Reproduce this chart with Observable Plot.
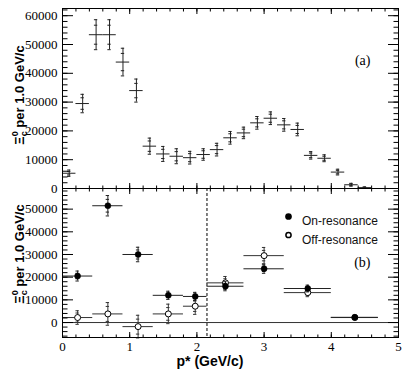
<!DOCTYPE html>
<html><head><meta charset="utf-8">
<script src="https://cdn.jsdelivr.net/npm/d3@7"></script>
<script src="https://cdn.jsdelivr.net/npm/@observablehq/plot@0.6"></script>
<style>
body{margin:0;background:#fff;}
#chart{position:relative;width:415px;height:372px;overflow:hidden;background:#fff;}
#chart svg{position:absolute;left:0;overflow:visible;background:transparent;}
#chart g[aria-label$="tick label"] text{font-family:"Liberation Serif",serif;}
</style></head>
<body><div id="chart"></div>
<script>
// ---- Panel (a): Xi_c^0 yield vs p* ----
const pTop = [0.1,0.3,0.5,0.7,0.9,1.1,1.3,1.5,1.7,1.9,2.1,2.3,2.5,2.7,2.9,3.1,3.3,3.5,3.7,3.9,4.1,4.3,4.5];
const yieldTop = [5300,29500,53400,53400,43900,34000,14700,12000,11200,10700,11800,13500,17600,19300,22800,24400,22100,20500,11500,10500,5700,1300,300];
const errTotTop = [1100,3200,5200,5200,4800,4000,2800,2600,2600,2200,2000,2200,2200,2000,2200,2200,2200,2200,1300,1200,1000,500,250];
const errStatTop = [600,2000,3300,3300,3000,2500,1800,1600,1600,1400,1300,1400,1400,1300,1400,1400,1400,1400,800,700,600,300,150];
const binWidthTop = 0.2;

// ---- Panel (b): on / off resonance ----
const binLo = [0,0.45,0.9,1.35,1.8,2.15,2.7,3.3,4.0];
const binHi = [0.45,0.9,1.35,1.8,2.15,2.7,3.3,4.0,4.7];
const onRes = [20500,51500,30000,12000,11500,16000,23700,15000,2300];
const onErrTot = [2200,4500,3200,1800,1800,2000,2000,1500,900];
const onErrStat = [1200,2800,2000,1000,1000,1200,1200,900,500];
const offRes = [2200,3800,-1800,3800,7200,17500,29500,13200,2200];
const offErrTot = [3000,5000,5000,4300,3600,2800,3600,1800,700];
const offErrStat = [2000,3300,3300,2800,2300,1800,2300,1100,400];
const pCut = 2.15;

// ---- Axis ticks ----
const xTicks = [0,1,2,3,4,5];
const yTicksTop = [0,10000,20000,30000,40000,50000,60000];
const yTicksBottom = [0,10000,20000,30000,40000,50000];
const legendLabels = ["On-resonance","Off-resonance"];

const SERIF = "Liberation Serif";
const SANS = "Liberation Sans";
const capW = 0.025;
const fmt = d3.format("d");

function rows(xs, lo, hi, vs, et, es) {
  return xs.map((p, i) => ({p, lo: lo[i], hi: hi[i], v: vs[i], et: et[i], es: es[i]}));
}
function caps(rs) {
  return rs.flatMap(d => [d.v - d.et, d.v + d.et, d.v - d.es, d.v + d.es].map(y => ({p: d.p, y})));
}
function errMarks(rs, stroke) {
  return [
    Plot.ruleY(rs, {x1: "lo", x2: "hi", y: "v", stroke, strokeWidth: 1}),
    Plot.ruleX(rs, {x: "p", y1: d => d.v - d.et, y2: d => d.v + d.et, stroke, strokeWidth: 1}),
    Plot.ruleY(caps(rs), {x1: d => d.p - capW, x2: d => d.p + capW, y: "y", stroke, strokeWidth: 1})
  ];
}
function frameTicks(yMaj, yMin) {
  const xMin = d3.range(0, 26).map(i => i * 0.2);
  const c = {fill: null, label: null, stroke: "#000", strokeWidth: 1};
  return [
    Plot.axisX(xTicks, {...c, anchor: "bottom", tickSize: -5}),
    Plot.axisX(xMin, {...c, anchor: "bottom", tickSize: -2.5}),
    Plot.axisX(xTicks, {...c, anchor: "top", tickSize: -5}),
    Plot.axisX(xMin, {...c, anchor: "top", tickSize: -2.5}),
    Plot.axisY(yMaj, {...c, anchor: "left", tickSize: -11}),
    Plot.axisY(yMin, {...c, anchor: "left", tickSize: -5.5}),
    Plot.axisY(yMaj, {...c, anchor: "right", tickSize: -11}),
    Plot.axisY(yMin, {...c, anchor: "right", tickSize: -5.5})
  ];
}

const topRows = rows(pTop, pTop.map(p => p - binWidthTop / 2), pTop.map(p => p + binWidthTop / 2), yieldTop, errTotTop, errStatTop);
const centers = binLo.map((l, i) => (l + binHi[i]) / 2);
const onRows = rows(centers, binLo, binHi, onRes, onErrTot, onErrStat);
const offRows = rows(centers, binLo, binHi, offRes, offErrTot, offErrStat);

const styleBase = {fontFamily: SERIF, fontSize: "13px", background: "transparent", overflow: "visible"};

const topPlot = Plot.plot({
  width: 415, height: 188,
  marginLeft: 62, marginRight: 17, marginTop: 8, marginBottom: 0,
  x: {domain: [0, 5]},
  y: {domain: [0, 62500]},
  style: styleBase,
  marks: [
    ...errMarks(topRows, "#222"),
    Plot.frame({stroke: "#000"}),
    ...frameTicks(yTicksTop, d3.range(0, 62001, 2000)),
    Plot.axisY(yTicksTop, {anchor: "left", tickSize: 0, tickPadding: 5, tickFormat: fmt, label: null, fontSize: 13, fontFamily: SERIF}),
    Plot.text(["(a)"], {frameAnchor: "top-right", dx: -28, dy: 47, fontSize: 14, fontFamily: SERIF})
  ]
});

const bottomPlot = Plot.plot({
  width: 415, height: 184,
  marginLeft: 62, marginRight: 17, marginTop: 0, marginBottom: 35,
  x: {domain: [0, 5]},
  y: {domain: [-6600, 59100]},
  style: styleBase,
  marks: [
    Plot.ruleY([0], {stroke: "#333", strokeWidth: 1}),
    Plot.ruleX([pCut], {stroke: "#000", strokeWidth: 1, strokeDasharray: "3,2"}),
    ...errMarks(offRows, "#333"),
    Plot.dot(offRows, {x: "p", y: "v", r: 3, fill: "#fff", stroke: "#000", strokeWidth: 1}),
    ...errMarks(onRows, "#222"),
    Plot.dot(onRows, {x: "p", y: "v", r: 3, fill: "#000", stroke: "#000", strokeWidth: 0.5}),
    Plot.frame({stroke: "#000"}),
    ...frameTicks(yTicksBottom, d3.range(-6000, 59001, 2000)),
    Plot.axisY(yTicksBottom, {anchor: "left", tickSize: 0, tickPadding: 5, tickFormat: fmt, label: null, fontSize: 13, fontFamily: SERIF}),
    Plot.axisX(xTicks, {anchor: "bottom", tickSize: 0, tickPadding: 4, tickFormat: fmt, label: null, fontSize: 13, fontFamily: SERIF}),
    // legend
    Plot.dot([legendLabels[0]], {frameAnchor: "top-left", dx: 226, dy: 28, r: 2.6, fill: "#000", stroke: "#000"}),
    Plot.dot([legendLabels[1]], {frameAnchor: "top-left", dx: 226, dy: 46.5, r: 2.6, fill: "#fff", stroke: "#000"}),
    Plot.text([legendLabels[0]], {frameAnchor: "top-left", dx: 239.5, dy: 28, text: d => d, textAnchor: "start", fontSize: 12, fontFamily: SANS, fill: "#111"}),
    Plot.text([legendLabels[1]], {frameAnchor: "top-left", dx: 239.5, dy: 46.5, text: d => d, textAnchor: "start", fontSize: 12, fontFamily: SANS, fill: "#111"}),
    Plot.text(["(b)"], {frameAnchor: "top-right", dx: -28, dy: 69, fontSize: 14, fontFamily: SERIF})
  ]
});

function yTitle(svg, cy) {
  const t = d3.select(svg).append("text")
    .attr("transform", `translate(24,${cy}) rotate(-90)`)
    .attr("text-anchor", "middle")
    .attr("font-family", SANS)
    .attr("font-weight", "bold")
    .attr("font-size", 13)
    .attr("fill", "#000");
  t.append("tspan").text("Ξ");
  t.append("tspan").attr("font-size", 9).attr("dy", 3).text("c");
  t.append("tspan").attr("font-size", 9).attr("dx", -5).attr("dy", -9).text("0");
  t.append("tspan").attr("dy", 6).text(" per 1.0 GeV/c");
}
yTitle(topPlot, 95);
yTitle(bottomPlot, 66);

d3.select(bottomPlot).append("text")
  .attr("x", 210).attr("y", 178)
  .attr("text-anchor", "middle")
  .attr("font-family", SANS)
  .attr("font-weight", "bold")
  .attr("font-size", 14)
  .attr("fill", "#000")
  .text("p* (GeV/c)");

// make sure tick labels use the serif face
for (const svg of [topPlot, bottomPlot]) {
  d3.select(svg).selectAll('g[aria-label$="tick label"]').attr("font-family", SERIF).style("font-family", SERIF);
}

const chart = document.getElementById("chart");
topPlot.style.top = "0px";
bottomPlot.style.top = "188px";
chart.appendChild(topPlot);
chart.appendChild(bottomPlot);
</script></body></html>
